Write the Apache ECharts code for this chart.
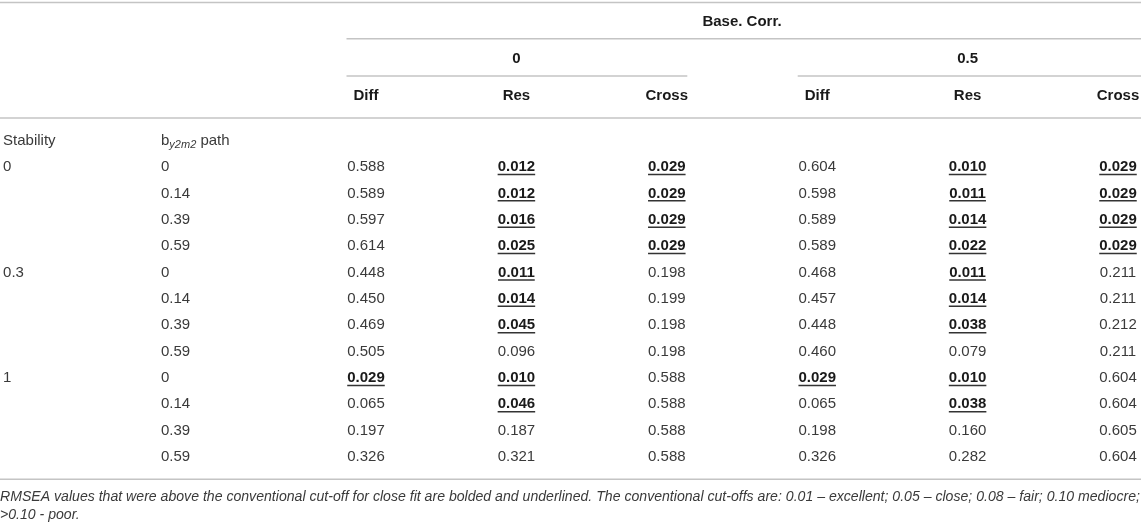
<!DOCTYPE html>
<html>
<head>
<meta charset="utf-8">
<script src="https://cdn.jsdelivr.net/npm/echarts@6/dist/echarts.min.js"></script>
<style>
html, body { margin: 0; padding: 0; background: #fff; }
#main { width: 1143px; height: 525px; }
</style>
</head>
<body>
<div id="main"></div>
<script>
// table data
var columnNames = ['Diff', 'Res', 'Cross', 'Diff', 'Res', 'Cross'];
var groupNames = ['0', '0.5'];
var stability = ['0', '', '', '', '0.3', '', '', '', '1', '', '', ''];
var pathValues = ['0', '0.14', '0.39', '0.59', '0', '0.14', '0.39', '0.59', '0', '0.14', '0.39', '0.59'];
var diff0   = [0.588, 0.589, 0.597, 0.614, 0.448, 0.450, 0.469, 0.505, 0.029, 0.065, 0.197, 0.326];
var res0    = [0.012, 0.012, 0.016, 0.025, 0.011, 0.014, 0.045, 0.096, 0.010, 0.046, 0.187, 0.321];
var cross0  = [0.029, 0.029, 0.029, 0.029, 0.198, 0.199, 0.198, 0.198, 0.588, 0.588, 0.588, 0.588];
var diff05  = [0.604, 0.598, 0.589, 0.589, 0.468, 0.457, 0.448, 0.460, 0.029, 0.065, 0.198, 0.326];
var res05   = [0.010, 0.011, 0.014, 0.022, 0.011, 0.014, 0.038, 0.079, 0.010, 0.038, 0.160, 0.282];
var cross05 = [0.029, 0.029, 0.029, 0.029, 0.211, 0.211, 0.212, 0.211, 0.604, 0.604, 0.605, 0.604];
var closeFit = 0.05; // values below this are bold + underlined
var note = [
    'RMSEA values that were above the conventional cut-off for close fit are bolded and underlined. The conventional cut-offs are: 0.01 \u2013 excellent; 0.05 \u2013 close; 0.08 \u2013 fair; 0.10 mediocre;',
    '>0.10 - poor.'
];

// layout (in axis units)
var stubCols = { stability: -2.413, path: -1.363 };
var headRows = { base: -5.50, group: -4.10, column: -2.69, stub: -1 };
var ruleRows = { top: -6.24, base: -4.86, group: -3.45, head: -1.86, bottom: 11.84 };
var noteRows = [12.52, 13.2];

var FONT = '"Liberation Sans", Arial, sans-serif';
var ctx = document.createElement('canvas').getContext('2d');
function textWidth(t, font) { ctx.font = font; return ctx.measureText(t).width; }

var valueCols = [diff0, res0, cross0, diff05, res05, cross05];
var cells = [];
for (var r = 0; r < pathValues.length; r++) {
    cells.push({ col: stubCols.stability, row: r, text: stability[r], left: true });
    cells.push({ col: stubCols.path, row: r, text: pathValues[r], left: true });
    for (var c = 0; c < valueCols.length; c++) {
        var v = valueCols[c][r];
        cells.push({ col: c, row: r, text: v.toFixed(3), bold: v < closeFit });
    }
}

var myChart = echarts.init(document.getElementById('main'));

function renderCell(params, api) {
    var cell = cells[params.dataIndex];
    var p = api.coord([cell.col, cell.row]);
    var font = (cell.bold ? 'bold ' : '') + '15px ' + FONT;
    var children = [{
        type: 'text',
        style: {
            x: p[0], y: p[1], text: cell.text,
            font: font,
            fill: cell.bold ? '#1a1a1a' : '#3a3a3a',
            align: cell.left ? 'left' : 'center',
            verticalAlign: 'middle'
        }
    }];
    if (cell.bold) {
        var w = textWidth(cell.text, font);
        children.push({
            type: 'line',
            shape: { x1: p[0] - w / 2, y1: p[1] + 7.5, x2: p[0] + w / 2, y2: p[1] + 7.5 },
            style: { stroke: '#333', lineWidth: 1.5 }
        });
    }
    return { type: 'group', children: children };
}

function renderFrame(params, api) {
    var W = api.getWidth();
    var pad = 19.5;
    var ch = [];
    function rule(y, x1, x2) {
        var yy = api.coord([0, y])[1];
        ch.push({ type: 'line', shape: { x1: x1, y1: yy, x2: x2, y2: yy },
            style: { stroke: '#c4c4c4', lineWidth: 1.5 } });
    }
    function label(x, y, text, align, bold) {
        var p = api.coord([x, y]);
        ch.push({ type: 'text', style: { x: p[0], y: p[1], text: text,
            font: (bold ? 'bold ' : '') + '15px ' + FONT, fill: bold ? '#1a1a1a' : '#3a3a3a',
            align: align, verticalAlign: 'middle' } });
    }
    var c0 = api.coord([0, 0])[0], c2 = api.coord([2, 0])[0];
    var c3 = api.coord([3, 0])[0];
    rule(ruleRows.top, 0, W - 2);
    rule(ruleRows.base, c0 - pad, W - 2);
    rule(ruleRows.group, c0 - pad, c2 + pad + 1);
    rule(ruleRows.group, c3 - pad, W - 2);
    rule(ruleRows.head, 0, W - 2);
    rule(ruleRows.bottom, 0, W - 2);

    label(2.5, headRows.base, 'Base. Corr.', 'center', true);
    label(1, headRows.group, groupNames[0], 'center', true);
    label(4, headRows.group, groupNames[1], 'center', true);
    for (var i = 0; i < columnNames.length; i++) {
        label(i, headRows.column, columnNames[i], 'center', true);
    }
    label(stubCols.stability, headRows.stub, 'Stability', 'left', false);
    var ps = api.coord([stubCols.path, headRows.stub]);
    ch.push({ type: 'text', style: {
        x: ps[0], y: ps[1], verticalAlign: 'middle', align: 'left',
        text: '{a|b}{s|y2m2}{a| path}',
        rich: {
            a: { font: '15px ' + FONT, fill: '#3a3a3a', lineHeight: 22, verticalAlign: 'middle' },
            s: { font: 'italic 11px ' + FONT, fill: '#3a3a3a', lineHeight: 22, verticalAlign: 'bottom', padding: [0, 0, 1, 0] }
        }
    } });
    for (var n = 0; n < note.length; n++) {
        var pn = api.coord([0, noteRows[n]]);
        ch.push({ type: 'text', style: { x: 0, y: pn[1], text: note[n],
            font: 'italic 14.1px ' + FONT, fill: '#3a3a3a', align: 'left', verticalAlign: 'middle' } });
    }
    return { type: 'group', children: ch };
}

option = {
    animation: false,
    grid: { left: 366, right: 25, top: 167, bottom: 68 },
    xAxis: { type: 'value', min: 0, max: 5, show: false },
    yAxis: { type: 'value', min: 0, max: 11, inverse: true, show: false },
    series: [
        {
            type: 'custom',
            clip: false,
            renderItem: renderFrame,
            data: [[0, 0]]
        },
        {
            type: 'custom',
            clip: false,
            renderItem: renderCell,
            data: cells.map(function (c) { return [c.col, c.row]; })
        }
    ]
};

myChart.setOption(option);
</script>
</body>
</html>
